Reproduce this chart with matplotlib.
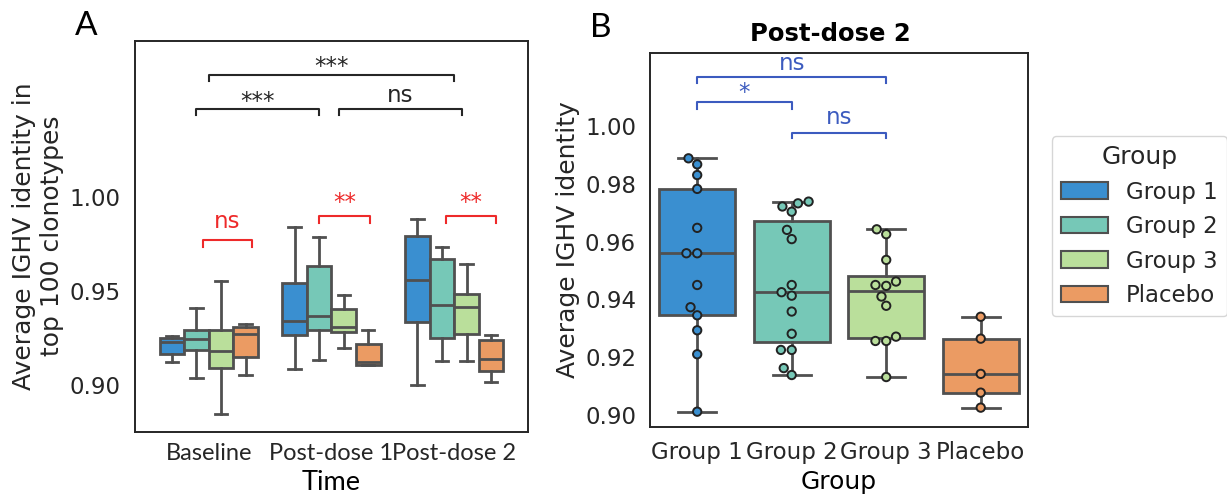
import numpy as np
import pandas as pd
import matplotlib.pyplot as plt
import seaborn as sns
from matplotlib.patches import Patch

# categories
groups = ["Group 1", "Group 2", "Group 3", "Placebo"]
times = ["Baseline", "Post-dose 1", "Post-dose 2"]
colors = ["#3a8fd0", "#76c8b7", "#badf9b", "#eb9b63"]

# panel A box statistics, rows = time point, columns = group
whisker_low = [[0.9124, 0.9036, 0.8846, 0.9053],
               [0.9084, 0.9131, 0.9195, 0.9106],
               [0.9000, 0.9129, 0.9129, 0.9014]]
quart1 = [[0.9165, 0.9186, 0.9092, 0.9151],
          [0.9264, 0.9293, 0.9282, 0.9106],
          [0.9334, 0.9252, 0.9270, 0.9076]]
medians = [[0.9230, 0.9246, 0.9181, 0.9271],
           [0.9342, 0.9369, 0.9310, 0.9124],
           [0.9559, 0.9426, 0.9413, 0.9138]]
quart3 = [[0.9252, 0.9291, 0.9291, 0.9310],
          [0.9541, 0.9633, 0.9403, 0.9218],
          [0.9793, 0.9669, 0.9482, 0.9239]]
whisker_high = [[0.9261, 0.9408, 0.9555, 0.9324],
                [0.9842, 0.9786, 0.9479, 0.9293],
                [0.9883, 0.9736, 0.9642, 0.9266]]

# panel B: post-dose 2 individual values
pd2_group1 = [0.9889, 0.9868, 0.9831, 0.9783, 0.9648, 0.9560, 0.9560,
              0.9450, 0.9373, 0.9345, 0.9293, 0.9210, 0.9011]
pd2_group2 = [0.9739, 0.9733, 0.9722, 0.9704, 0.9641, 0.9609, 0.9450, 0.9425,
              0.9413, 0.9358, 0.9281, 0.9225, 0.9225, 0.9162, 0.9138]
pd2_group3 = [0.9643, 0.9626, 0.9537, 0.9462, 0.9450, 0.9447,
              0.9410, 0.9378, 0.9271, 0.9256, 0.9256, 0.9131]
pd2_placebo = [0.9340, 0.9264, 0.9142, 0.9077, 0.9025]

# significance brackets: x1, x2, line y, tick length, label, label y
brackets_time = [(0.0, 2.0, 1.0649, 0.0030, "***", 1.0695),
                 (-0.10, 0.90, 1.0468, 0.0032, "***", 1.0507),
                 (1.06, 2.06, 1.0468, 0.0032, "ns", 1.0543)]
brackets_placebo = [(-0.05, 0.355, 0.9771, 0.0036, "ns", 0.9871),
                    (0.90, 1.31, 0.9899, 0.0036, "**", 0.9970),
                    (1.934, 2.341, 0.9899, 0.0036, "**", 0.9970)]
brackets_b = [(0, 2, 1.0172, 0.0023, "ns", 1.0218),
              (0, 1, 1.0085, 0.0026, "*", 1.0116),
              (1, 2, 0.9978, 0.0020, "ns", 1.0030)]

plt.rcParams['font.family'] = ['DejaVu Sans']
dark = '#262626'
edge = '#505050'
plt.rcParams['text.color'] = dark
plt.rcParams['xtick.color'] = dark
plt.rcParams['ytick.color'] = dark

fig = plt.figure(figsize=(12.27, 4.98), dpi=100)
axA = fig.add_axes([0.1100, 0.1325, 0.3203, 0.7851])
axB = fig.add_axes([0.5297, 0.1432, 0.3081, 0.7510])

line_kw = dict(color=edge, linewidth=2.0)

# ---- panel A
offsets = [-0.3, -0.1, 0.1, 0.3]
for t in range(len(times)):
    stats = []
    for g in range(len(groups)):
        stats.append(dict(whislo=whisker_low[t][g], q1=quart1[t][g], med=medians[t][g],
                          q3=quart3[t][g], whishi=whisker_high[t][g], fliers=[]))
    bp = axA.bxp(stats, positions=[t + o for o in offsets], widths=0.2,
                 patch_artist=True, showfliers=False,
                 boxprops=dict(edgecolor=edge, linewidth=2.0),
                 whiskerprops=line_kw, capprops=line_kw, medianprops=line_kw)
    for patch, c in zip(bp['boxes'], colors):
        patch.set_facecolor(c)


def draw_bracket(ax, x1, x2, y, h, label, ty, color):
    ax.plot([x1, x1, x2, x2], [y - h, y, y, y - h], color=color, lw=1.5)
    ax.text((x1 + x2) / 2, ty, label, ha='center', va='center', color=color, fontsize=16.5)


for b in brackets_time:
    draw_bracket(axA, *b, color=dark)
for b in brackets_placebo:
    draw_bracket(axA, *b, color='#ee2a2a')

axA.set_xlim(-0.6, 2.6)
axA.set_ylim(0.875, 1.0831)
axA.set_yticks([0.90, 0.95, 1.00])
axA.set_yticklabels(["0.90", "0.95", "1.00"], fontsize=16.5)
axA.set_xticks(range(len(times)))
axA.set_xticklabels(times, fontsize=17, fontfamily='Lato')
axA.tick_params(axis='y', length=0, pad=10.5)
axA.tick_params(axis='x', length=0, pad=8)
axA.set_xlabel("Time", fontsize=19.5, fontfamily='Lato')
axA.xaxis.set_label_coords(0.5, -0.098)
fig.text(37.7 / 1227, 1 - 236 / 498, "Average IGHV identity in\ntop 100 clonotypes",
         rotation=90, ha='center', va='center', fontsize=18, multialignment='center')

# ---- panel B
pd2_values = [pd2_group1, pd2_group2, pd2_group3, pd2_placebo]
bp = axB.boxplot(pd2_values, positions=range(len(groups)), widths=0.8,
                 patch_artist=True, showfliers=False,
                 boxprops=dict(edgecolor=edge, linewidth=2.0),
                 whiskerprops=line_kw, capprops=line_kw, medianprops=line_kw)
for patch, c in zip(bp['boxes'], colors):
    patch.set_facecolor(c)

df = pd.DataFrame({"Group": np.repeat(groups, [len(v) for v in pd2_values]),
                   "value": np.concatenate(pd2_values)})
sns.swarmplot(data=df, x="Group", y="value", hue="Group", order=groups, hue_order=groups,
              palette=colors, legend=False, size=6, edgecolor='#222222', linewidth=1.4,
              zorder=3, ax=axB)

for b in brackets_b:
    draw_bracket(axB, *b, color='#3c5bbf')

axB.set_xlim(-0.5, 3.5)
axB.set_ylim(0.8959, 1.0255)
axB.set_yticks([0.90, 0.92, 0.94, 0.96, 0.98, 1.00])
axB.set_yticklabels(["0.90", "0.92", "0.94", "0.96", "0.98", "1.00"], fontsize=16.5)
axB.set_xticks(range(len(groups)))
axB.set_xticklabels(groups, fontsize=16.5)
axB.tick_params(axis='y', length=0, pad=10)
axB.tick_params(axis='x', length=0, pad=10)
axB.set_xlabel("Group", fontsize=18)
axB.xaxis.set_label_coords(0.5, -0.115)
axB.set_ylabel("")
fig.text(568 / 1227, 1 - 239.7 / 498, "Average IGHV identity", rotation=90,
         ha='center', va='center', fontsize=18)

for ax in (axA, axB):
    for s in ax.spines.values():
        s.set_color(dark)
        s.set_linewidth(1.4)

fig.text(830 / 1227, 1 - 34 / 498, "Post-dose 2", ha='center', va='center',
         fontsize=17.5, fontweight='bold', color='black')
fig.text(86 / 1227, 1 - 26 / 498, "A", ha='center', va='center', fontsize=24,
         fontfamily='Lato', color='black')
fig.text(601 / 1227, 1 - 28 / 498, "B", ha='center', va='center', fontsize=24,
         fontfamily='Lato', color='black')

handles = [Patch(facecolor=c, edgecolor=edge, linewidth=1.5, label=g) for g, c in zip(groups, colors)]
fig.legend(handles=handles, title="Group", loc='upper left', bbox_to_anchor=(1051.7 / 1227, 1 - 136 / 498),
           fontsize=16.5, title_fontsize=18, handlelength=2.05, handleheight=0.74,
           borderaxespad=0)

fig.savefig("out.png", dpi=100)
